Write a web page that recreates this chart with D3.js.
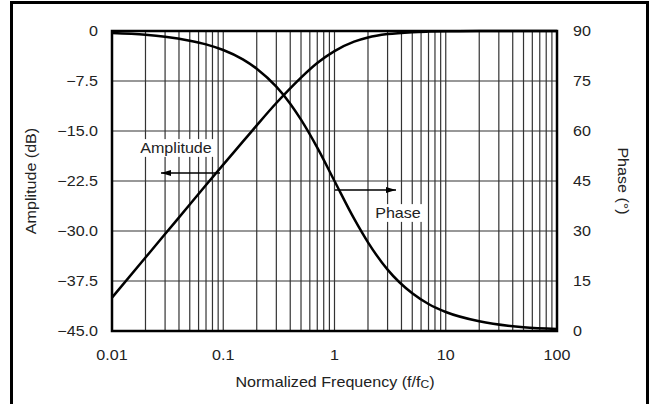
<!DOCTYPE html>
<html><head><meta charset="utf-8">
<script src="https://cdn.jsdelivr.net/npm/d3@7"></script>
<style>body{margin:0;background:#fff}svg{display:block}text{font-family:"Liberation Sans",Arial,sans-serif;fill:#222}</style>
</head><body>
<script>
const freqs     = [0.01,0.02,0.03,0.05,0.07,0.1,0.15,0.2,0.3,0.4,0.5,0.7,1,1.5,2,3,5,7,10,20,50,100];
const amplitude = [-40.0,-33.98,-30.46,-26.03,-23.1,-20.04,-16.6,-14.15,-10.8,-8.6,-6.99,-4.8,-3.01,-1.6,-0.97,-0.46,-0.17,-0.09,-0.04,-0.01,0,0];
const phase     = [89.4,88.9,88.3,87.1,86.0,84.3,81.5,78.7,73.3,68.2,63.4,55.0,45.0,33.7,26.6,18.4,11.3,8.1,5.7,2.9,1.1,0.6];
const xTicks = [0.01,0.1,1,10,100];
const xTickLabels = ["0.01","0.1","1","10","100"];
const ampTicks = [0,-7.5,-15,-22.5,-30,-37.5,-45];
const ampTickLabels = ["0","\u22127.5","\u221215.0","\u221222.5","\u221230.0","\u221237.5","\u221245.0"];
const phaseTicks = [90,75,60,45,30,15,0];
const phaseTickLabels = ["90","75","60","45","30","15","0"];

const W=651,H=404, L=112,R=557,T=31,B=331, FS=14, SX=1.15;
const svg=d3.select("body").append("svg").attr("width",W).attr("height",H);
const x=d3.scaleLog().domain([0.01,100]).range([L,R]);
const yA=d3.scaleLinear().domain([-45,0]).range([B,T]);
const yP=d3.scaleLinear().domain([0,90]).range([B,T]);

function txt(parent,px,py,anchor,str,rot){
  const gg=parent.append("g").attr("transform",`translate(${px},${py})`+(rot?` rotate(${rot})`:"")+` scale(${SX},1)`);
  const t=gg.append("text").attr("text-anchor",anchor).attr("dominant-baseline","central").attr("font-size",FS);
  if(str!==null) t.text(str);
  return {g:gg,t:t};
}

// outer frame
svg.append("rect").attr("x",11.5).attr("y",2.5).attr("width",636).attr("height",440)
  .attr("fill","none").attr("stroke","#000").attr("stroke-width",3);

// grid
const minor=[];
for(let d=-2;d<2;d++){for(let k=1;k<=9;k++){minor.push(k*Math.pow(10,d));}}
const g=svg.append("g");
g.selectAll("line.v").data(minor.filter(v=>v>0.01)).enter().append("line")
  .attr("x1",d=>x(d)).attr("x2",d=>x(d)).attr("y1",T).attr("y2",B)
  .attr("stroke","#333").attr("stroke-width",1.2);
g.selectAll("line.h").data(ampTicks.filter(v=>v>-45&&v<0)).enter().append("line")
  .attr("x1",L).attr("x2",R).attr("y1",d=>yA(d)).attr("y2",d=>yA(d))
  .attr("stroke","#333").attr("stroke-width",1.2);

function label(str,cx,cy){
  const o=txt(svg,cx,cy,"middle",str);
  const bb=o.t.node().getBBox();
  o.g.insert("rect",()=>o.t.node()).attr("x",bb.x-3).attr("y",bb.y-1).attr("width",bb.width+6).attr("height",bb.height+2).attr("fill","#fff");
}

// curves
const line=(arr,ys)=>d3.line().x((d,i)=>x(freqs[i])).y((d,i)=>ys(arr[i])).curve(d3.curveMonotoneX)(arr);
svg.append("path").attr("d",line(amplitude,yA)).attr("fill","none").attr("stroke","#000").attr("stroke-width",2.5);
svg.append("path").attr("d",line(phase,yP)).attr("fill","none").attr("stroke","#000").attr("stroke-width",2.5);

// plot frame
svg.append("rect").attr("x",L).attr("y",T).attr("width",R-L).attr("height",B-T)
  .attr("fill","none").attr("stroke","#000").attr("stroke-width",2.5);

label("Amplitude",176,148);
label("Phase",398,213);

// arrows
const defs=svg.append("defs");
defs.append("marker").attr("id","ah").attr("viewBox","0 0 10 6").attr("refX",10).attr("refY",3)
  .attr("markerWidth",10).attr("markerHeight",6).attr("markerUnits","userSpaceOnUse").attr("orient","auto")
  .append("path").attr("d","M0,0L10,3L0,6Z").attr("fill","#000");
svg.append("line").attr("x1",220).attr("x2",161).attr("y1",173).attr("y2",173).attr("stroke","#000").attr("stroke-width",1.3).attr("marker-end","url(#ah)");
svg.append("line").attr("x1",335).attr("x2",396).attr("y1",190).attr("y2",190).attr("stroke","#000").attr("stroke-width",1.3).attr("marker-end","url(#ah)");

// tick labels
xTicks.forEach((d,i)=>txt(svg,x(d),355,"middle",xTickLabels[i]));
ampTicks.forEach((d,i)=>txt(svg,98,yA(d),"end",ampTickLabels[i]));
phaseTicks.forEach((d,i)=>txt(svg,573,yP(d),"start",phaseTickLabels[i]));

// axis titles
const xt=txt(svg,335,381,"middle",null).t;
xt.append("tspan").text("Normalized Frequency (f/f");
xt.append("tspan").attr("font-size",10.5).attr("dy",3).text("C");
xt.append("tspan").attr("dy",-3).text(")");
txt(svg,31,181,"middle","Amplitude (dB)",-90);
txt(svg,623,181,"middle","Phase (\u00B0)",90);
</script>
</body></html>
